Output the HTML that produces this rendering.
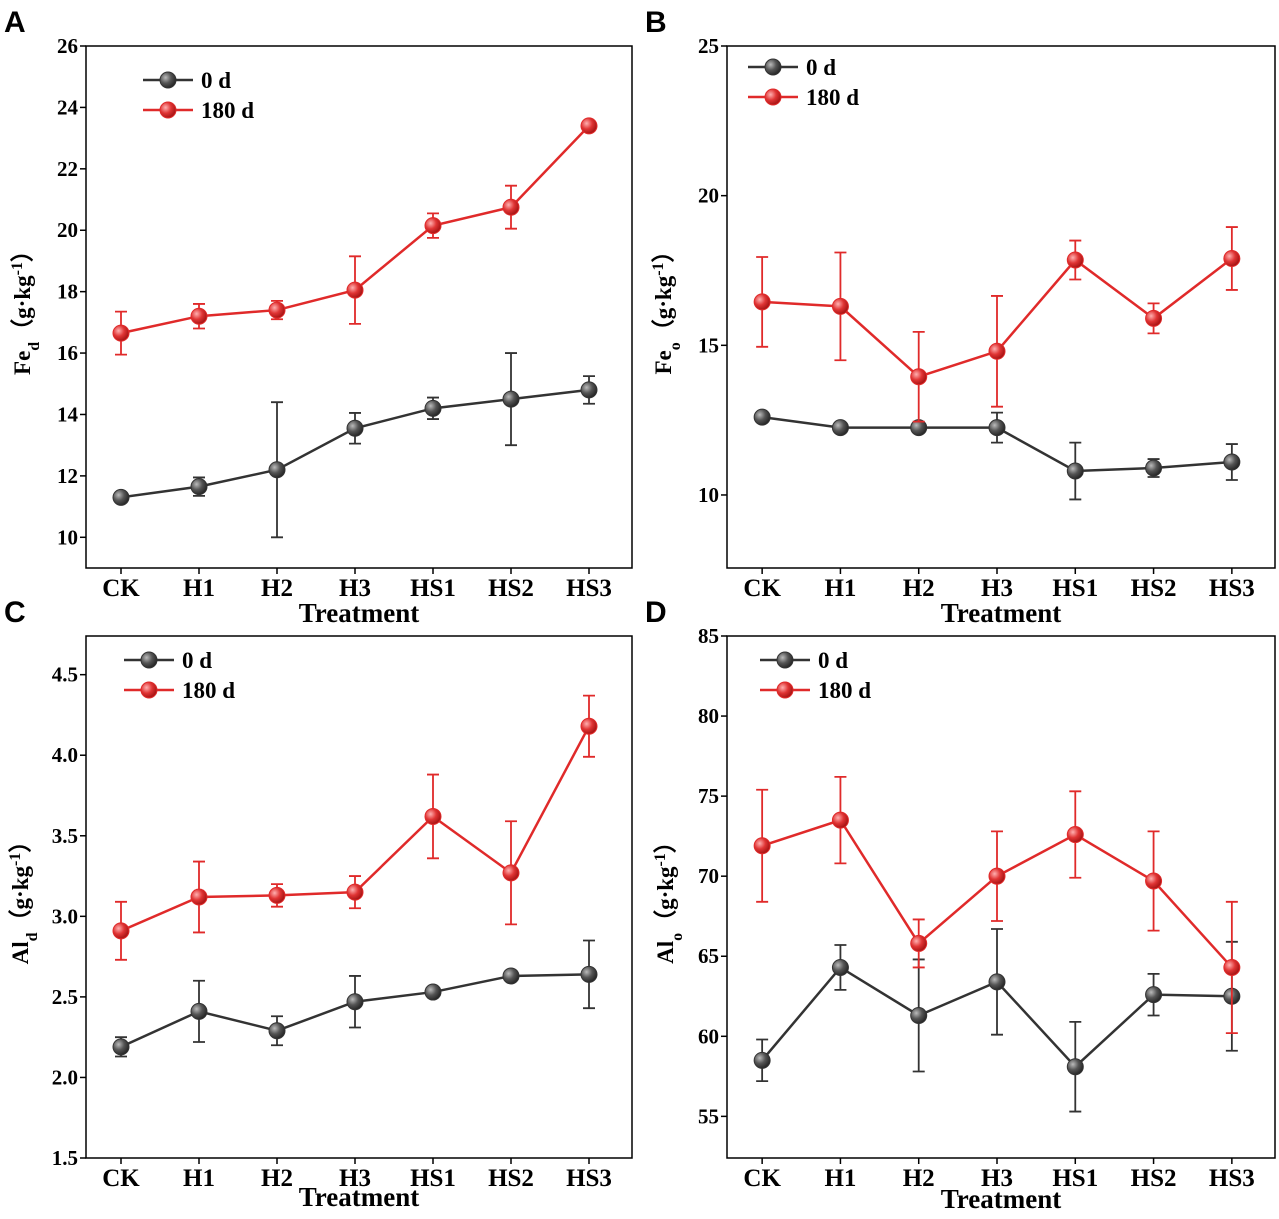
<!DOCTYPE html>
<html><head><meta charset="utf-8">
<style>
body{margin:0;background:#fff;}
svg text{font-family:"Liberation Serif",serif;font-weight:bold;}
</style></head>
<body>
<svg id="fig" width="1279" height="1214" viewBox="0 0 1279 1214" xmlns="http://www.w3.org/2000/svg">
<defs>
<radialGradient id="gBlack" cx="0.35" cy="0.35" r="0.7"><stop offset="0" stop-color="#bbb"/><stop offset="0.5" stop-color="#555"/><stop offset="1" stop-color="#222"/></radialGradient>
<radialGradient id="gRed" cx="0.35" cy="0.35" r="0.7"><stop offset="0" stop-color="#ffb0b0"/><stop offset="0.5" stop-color="#e03535"/><stop offset="1" stop-color="#a01010"/></radialGradient>
</defs>
</svg>
<script>
const categories = ["CK","H1","H2","H3","HS1","HS2","HS3"];
const seriesLabels = ["0 d","180 d"];
// Panel A: Fe_d
const aDay0 = [11.3,11.65,12.2,13.55,14.2,14.5,14.8];
const aDay0Err = [0.15,0.3,2.2,0.5,0.35,1.5,0.45];
const aDay180 = [16.65,17.2,17.4,18.05,20.15,20.75,23.4];
const aDay180Err = [0.7,0.4,0.3,1.1,0.4,0.7,0.1];
const aTicks = [10,12,14,16,18,20,22,24,26];
// Panel B: Fe_o
const bDay0 = [12.6,12.25,12.25,12.25,10.8,10.9,11.1];
const bDay0Err = [0.1,0.1,0.1,0.5,0.95,0.3,0.6];
const bDay180 = [16.45,16.3,13.95,14.8,17.85,15.9,17.9];
const bDay180Err = [1.5,1.8,1.5,1.85,0.65,0.5,1.05];
const bTicks = [10,15,20,25];
// Panel C: Al_d
const cDay0 = [2.19,2.41,2.29,2.47,2.53,2.63,2.64];
const cDay0Err = [0.06,0.19,0.09,0.16,0.02,0.02,0.21];
const cDay180 = [2.91,3.12,3.13,3.15,3.62,3.27,4.18];
const cDay180Err = [0.18,0.22,0.07,0.1,0.26,0.32,0.19];
const cTicks = ["1.5","2.0","2.5","3.0","3.5","4.0","4.5"];
// Panel D: Al_o
const dDay0 = [58.5,64.3,61.3,63.4,58.1,62.6,62.5];
const dDay0Err = [1.3,1.4,3.5,3.3,2.8,1.3,3.4];
const dDay180 = [71.9,73.5,65.8,70,72.6,69.7,64.3];
const dDay180Err = [3.5,2.7,1.5,2.8,2.7,3.1,4.1];
const dTicks = [55,60,65,70,75,80,85];

const NS="http://www.w3.org/2000/svg";
const svg=document.getElementById('fig');
function mk(tag,attrs,parent){const e=document.createElementNS(NS,tag);for(const k in attrs)e.setAttribute(k,attrs[k]);(parent||svg).appendChild(e);return e;}

function panel(cfg){
  const g=mk('g',{});
  
  
  const {x0,x1,y0,y1,vmin,vmax}=cfg;
  const yS=v=>y1-(v-vmin)/(vmax-vmin)*(y1-y0);
  const step=(x1-x0)/7;
  const xS=i=>x0+step*(i+0.5)-4;
  const box=mk('rect',{x:x0,y:y0,width:x1-x0,height:y1-y0,fill:'none',stroke:'#000','stroke-width':1.5},g);
  
  
  cfg.ticks.forEach(t=>{
    const y=yS(+t);
    mk('line',{x1:x0-6,x2:x0,y1:y,y2:y,stroke:'#000','stroke-width':1.5},g);
    const tx=mk('text',{x:x0-8,y:y+7,'text-anchor':'end','font-size':21},g);
    tx.textContent=t;
    
    
  });
  categories.forEach((c,i)=>{
    const x=xS(i);
    mk('line',{x1:x,x2:x,y1:y1,y2:y1+6,stroke:'#000','stroke-width':1.5},g);
    const tx=mk('text',{x:x,y:y1+28,'text-anchor':'middle','font-size':25},g);
    tx.textContent=c;
    
    
  });
  const xt=mk('text',{x:(x0+x1)/2,y:y1+cfg.xtOff,'text-anchor':'middle','font-size':27},g);
  xt.textContent='Treatment';
  
  
  const cy=(y0+y1)/2+cfg.ytShift;
  const yt=mk('text',{x:x0-62+cfg.ytX,y:cy,'text-anchor':'middle','font-size':23,transform:`rotate(-90 ${x0-62+cfg.ytX} ${cy})`},g);
  yt.innerHTML=cfg.ylab;
  
  
  const lt=mk('text',{x:x0-82,y:y0-14,'font-size':30,style:'font-family:Liberation Sans,sans-serif;font-weight:bold'},g);
  lt.textContent=cfg.letter;
  
  
  const series=[[cfg.s0,cfg.e0,'#333','url(#gBlack)'],[cfg.s1,cfg.e1,'#e02a2a','url(#gRed)']];
  series.forEach((s,si)=>{
    const [vals,errs,col,fill]=s;
    const pts=vals.map((v,i)=>xS(i)+','+yS(v)).join(' ');
    const pl=mk('polyline',{points:pts,fill:'none',stroke:col,'stroke-width':2.5},g);
    
    
    vals.forEach((v,i)=>{
      const x=xS(i),yt2=yS(v+errs[i]),yb=yS(v-errs[i]);
      const eb=mk('path',{d:`M${x},${yt2}V${yb}M${x-6},${yt2}H${x+6}M${x-6},${yb}H${x+6}`,stroke:col,'stroke-width':1.8,fill:'none'},g);
      
      
      const m=mk('circle',{cx:x,cy:yS(v),r:8,fill:fill,stroke:col,'stroke-width':1},g);
      
      
    });
    const lx=cfg.legX, ly=cfg.legY+si*30;
    const lg=mk('g',{},g);
    
    
    mk('line',{x1:lx,x2:lx+50,y1:ly,y2:ly,stroke:col,'stroke-width':2.5},lg);
    mk('circle',{cx:lx+25,cy:ly,r:8,fill:fill,stroke:col,'stroke-width':1},lg);
    const t=mk('text',{x:lx+58,y:ly+8,'font-size':23},lg);
    t.textContent=seriesLabels[si];
  });
}
panel({letter:'A',x0:86,x1:632,y0:46,y1:568,vmin:9,vmax:26,ticks:aTicks,s0:aDay0,e0:aDay0Err,s1:aDay180,e1:aDay180Err,legX:143,legY:80,xtOff:54,ytX:6,ytShift:0,
 ylab:'Fe<tspan baseline-shift="sub" font-size="16">d</tspan>（g·kg<tspan baseline-shift="super" font-size="16">-1</tspan>）'});
panel({letter:'B',x0:727,x1:1275,y0:46,y1:568,vmin:7.56,vmax:25,ticks:bTicks,s0:bDay0,e0:bDay0Err,s1:bDay180,e1:bDay180Err,legX:748,legY:67,xtOff:54,ytX:6,ytShift:0,
 ylab:'Fe<tspan baseline-shift="sub" font-size="16">o</tspan>（g·kg<tspan baseline-shift="super" font-size="16">-1</tspan>）'});
panel({letter:'C',x0:86,x1:632,y0:636,y1:1158,vmin:1.5,vmax:4.74,ticks:cTicks,s0:cDay0,e0:cDay0Err,s1:cDay180,e1:cDay180Err,legX:124,legY:660,xtOff:48,ytX:4,ytShift:0,
 ylab:'Al<tspan baseline-shift="sub" font-size="16">d</tspan>（g·kg<tspan baseline-shift="super" font-size="16">-1</tspan>）'});
panel({letter:'D',x0:727,x1:1275,y0:636,y1:1158,vmin:52.4,vmax:85,ticks:dTicks,s0:dDay0,e0:dDay0Err,s1:dDay180,e1:dDay180Err,legX:760,legY:660,xtOff:50,ytX:8,ytShift:0,
 ylab:'Al<tspan baseline-shift="sub" font-size="16">o</tspan>（g·kg<tspan baseline-shift="super" font-size="16">-1</tspan>）'});
</script>
</body></html>
